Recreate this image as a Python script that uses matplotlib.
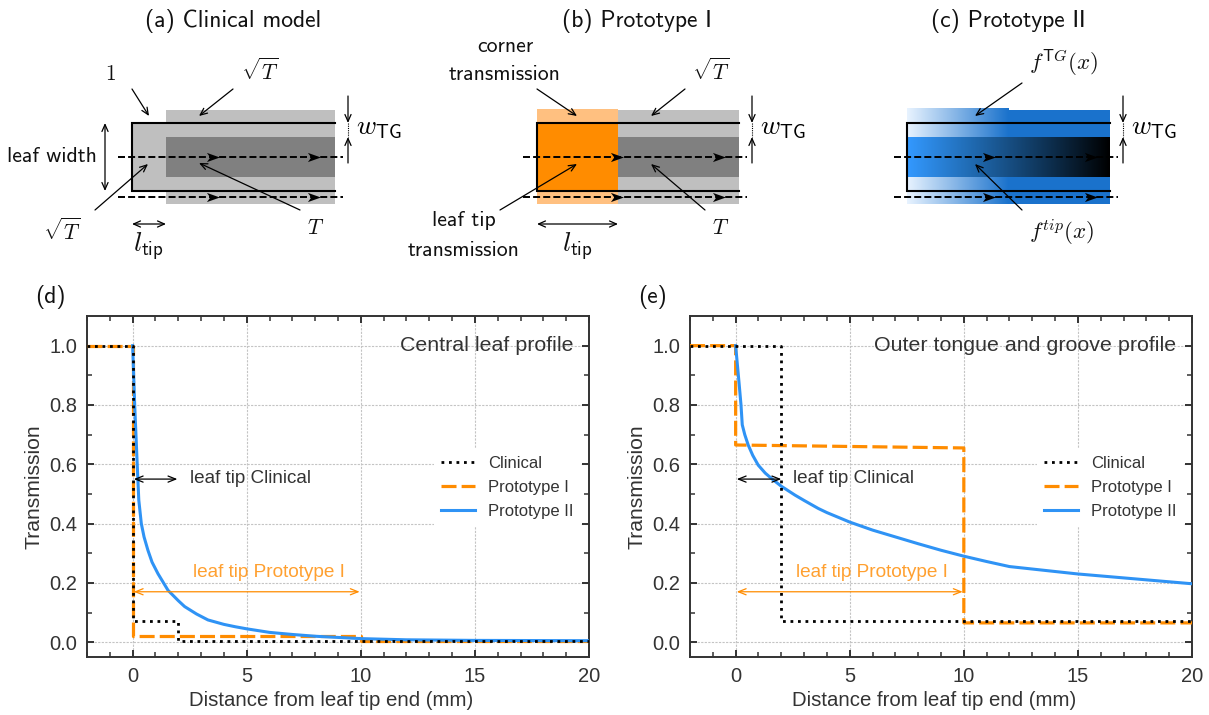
import numpy as np
import matplotlib
matplotlib.use('Agg')
import matplotlib.pyplot as plt
from matplotlib.colors import LinearSegmentedColormap
from matplotlib.path import Path
from matplotlib.patches import Rectangle

W, H = 1209, 715
plt.rcParams['mathtext.fontset'] = 'cm'
plt.rcParams['font.family'] = ['Liberation Sans', 'DejaVu Sans']

# ---- data panel (d) ----
d_clin_x = [-2, 0, 0, 2, 2, 20]
d_clin_y = [1, 1, 0.07, 0.07, 0.005, 0.005]
d_p1_x = [-2, 0, 0, 10, 10, 20]
d_p1_y = [1, 1, 0.02, 0.02, 0.005, 0.005]
d_p2_x = [0, 0.09, 0.2, 0.27, 0.38, 0.5, 0.67, 0.85, 1.11, 1.55, 2, 2.28, 2.8, 3.3, 4, 4.5, 5, 6, 7, 8, 9, 10, 12, 15, 20]
d_p2_y = [1, .80, .6, .479, .40, .355, .31, .27, .231, .175, .14, .12, .095, .075, .06, .052, .045, .033, .026, .02, .016, .012, .008, .006, .005]
# ---- data panel (e) ----
e_clin_x = [-2, 2, 2, 20]
e_clin_y = [1, 1, 0.07, 0.07]
e_p1_x = [-2, 0, 0, 10, 10, 20]
e_p1_y = [1, 1, 0.665, 0.655, 0.065, 0.065]
e_p2_x = [0, 0.15, 0.235, 0.29, 0.4, 0.55, 0.75, 0.99, 1.3, 1.65, 2, 2.6, 3, 3.62, 4, 5, 6, 7, 8, 9, 10, 11, 12, 15, 20]
e_p2_y = [1, .874, .80, .733, .70, .665, .63, .597, .57, .547, .526, .496, .478, .451, .437, .405, .378, .355, .332, .31, .29, .272, .255, .23, .197]

series_labels = ['Clinical', 'Prototype I', 'Prototype II']
BLUE, ORANGE = '#2f93f5', '#ff8c00'
TXT = '#333333'

fig = plt.figure(figsize=(W / 100, H / 100), dpi=100)


def pixel_axes(l, t, r, b):
    return fig.add_axes([l / W, 1 - b / H, (r - l) / W, (b - t) / H])


def profile(ax, cx, cy, px, py, bx, by, caption, clin_arrow_end):
    ax.plot(px, py, color=ORANGE, lw=2.3, dashes=(4.7, 1.6), zorder=3, label=series_labels[1])
    ax.plot(bx, by, color=BLUE, lw=2.2, zorder=4, label=series_labels[2])
    ax.plot(cx, cy, color='black', lw=2.0, dashes=(1, 1.7), zorder=5, label=series_labels[0])
    ax.set_xlim(-2, 20)
    ax.set_ylim(-0.05, 1.1)
    ax.set_xticks([0, 5, 10, 15, 20])
    ax.set_xticks(range(-2, 21), minor=True)
    ax.set_yticks([0, .2, .4, .6, .8, 1.0])
    ax.set_yticks(np.arange(0, 1.05, .1), minor=True)
    ax.tick_params(which='major', direction='in', top=True, right=True, length=5, width=1.4,
                   labelsize=14.5, colors=TXT, pad=7)
    ax.tick_params(which='minor', direction='in', top=True, right=True, length=3.3, width=1.1, colors=TXT)
    ax.grid(True, which='major', color='#c4c4c4', lw=0.8, ls=(0, (2, 1.2)), zorder=0)
    for s in ax.spines.values():
        s.set_linewidth(1.4)
        s.set_color(TXT)
    ax.set_xlabel('Distance from leaf tip end (mm)', fontsize=14.7, color=TXT)
    ax.set_ylabel('Transmission', fontsize=15.2, color=TXT)
    ax.text(19.3, 1.0, caption, ha='right', va='center', fontsize=15.4, color=TXT, zorder=6)
    ax.text(2.5, 0.553, 'leaf tip Clinical', ha='left', va='center', fontsize=13.6, color=TXT, zorder=6)
    ax.annotate('', xy=(0.05, .55), xytext=(clin_arrow_end, .55), zorder=6,
                arrowprops=dict(arrowstyle='<->,head_width=0.22,head_length=0.55', color='black', lw=0.9,
                                shrinkA=0, shrinkB=0))
    ax.text(2.65, 0.234, 'leaf tip Prototype I', ha='left', va='center', fontsize=13.7, color='#ffa030', zorder=6)
    ax.annotate('', xy=(0.05, .17), xytext=(9.95, .17), zorder=6,
                arrowprops=dict(arrowstyle='<->,head_width=0.22,head_length=0.55', color=ORANGE, lw=0.9,
                                shrinkA=0, shrinkB=0))
    h, l = ax.get_legend_handles_labels()
    order = [2, 0, 1]
    leg = ax.legend([h[i] for i in order], [l[i] for i in order], loc='center right',
                    bbox_to_anchor=(0.984, 0.498), borderaxespad=0, fontsize=12, frameon=True, framealpha=1,
                    edgecolor='none', facecolor='white', fancybox=False, handlelength=2.04,
                    labelspacing=0.55, handletextpad=0.78, borderpad=0.42)
    leg.set_zorder(2)
    for t in leg.get_texts():
        t.set_color(TXT)
    ax.yaxis.set_label_coords(-0.087, 0.5)
    ax.xaxis.set_label_coords(0.486, -0.100)


ax_d = pixel_axes(87, 316, 589, 657)
ax_e = pixel_axes(690, 316, 1192, 657)
profile(ax_d, d_clin_x, d_clin_y, d_p1_x, d_p1_y, d_p2_x, d_p2_y, 'Central leaf profile', 1.96)
profile(ax_e, e_clin_x, e_clin_y, e_p1_x, e_p1_y, e_p2_x, e_p2_y, 'Outer tongue and groove profile', 2.0)

# ---- schematic overlay, in pixel units of the figure ----
ov = fig.add_axes([0, 0, 1, 1], zorder=10)
ov.patch.set_alpha(0)
ov.axis('off')

SANS = 'cmss10'
LG, DG = '#bfbfbf', '#808080'


def rect(x0, y0, x1, y1, c, z=1):
    ov.add_patch(Rectangle((x0, y0), x1 - x0, y1 - y0, fc=c, ec='none', zorder=z))


def outline(x0, x1):
    ov.plot([x1, x0, x0, x1], [123, 123, 191, 191], color='black', lw=1.5, zorder=5, solid_joinstyle='miter')


head = Path([(1, 0), (-.75, .62), (-.3, 0), (-.75, -.62), (1, 0)],
            [Path.MOVETO, Path.LINETO, Path.LINETO, Path.LINETO, Path.CLOSEPOLY])


def dashed(x0, x1, tips):
    for y in (157, 197):
        ov.plot([x0, x1], [y, y], color='black', lw=1.4, dashes=(3.6, 1.6), zorder=6)
        ov.plot(np.array(tips) - 7.4, [y] * 2, ls='none', marker=head, ms=10.7, color='black', mew=0, zorder=7)


def arrow(a, b, style='->', lw=0.9):
    ov.annotate('', xy=b, xytext=a, zorder=8,
                arrowprops=dict(arrowstyle=style + ',head_width=0.22,head_length=0.5', color='black', lw=lw,
                                shrinkA=0, shrinkB=0))


def wtg(x, tx):
    arrow((x, 96), (x, 123), '->')
    arrow((x, 163), (x, 137), '->')
    ov.plot([x, x], [123, 137], color='black', lw=0.8, ls=(0, (1, 1)), zorder=8)
    ov.text(tx, 127, r'$w_{\mathsf{TG}}$', fontsize=19.5, ha='left', va='center', zorder=8)


def label(x, y, s, fs=15.7):
    ov.text(x, y, s, fontsize=fs, family=SANS, ha='center', va='center', color='#111111', zorder=8)


def math(x, y, s, fs=15.5):
    ov.text(x, y, s, fontsize=fs, ha='center', va='center', color='#111111', zorder=8)


# (a)
rect(166, 110, 335, 204, LG)
rect(132, 123, 166, 191, LG)
rect(166, 137, 335, 177, DG, 2)
outline(132, 335)
dashed(118, 343, [219, 320])
label(233, 21, '(a) Clinical model', 17)
math(110, 75, r'$1$')
arrow((132, 89), (149, 116))
math(260, 72, r'$\sqrt{T}$')
arrow((233, 89), (199, 116))
label(52, 157, 'leaf width')
arrow((105, 123), (105, 191), '<->')
wtg(348, 356)
math(62, 232, r'$\sqrt{T}$')
arrow((95, 210), (148, 164))
math(316, 228, r'$T$')
arrow((300, 210), (199, 163))
arrow((132, 224), (166, 224), '<->')
math(148, 247, r'$l_{\mathsf{tip}}$', 19.5)

# (b)
rect(537, 109, 618, 204, '#ffc080')
rect(537, 123, 618, 191, ORANGE, 2)
rect(618, 110, 739, 204, LG)
rect(618, 137, 739, 177, DG, 2)
outline(537, 739)
dashed(523, 747, [623, 725])
label(637, 21, '(b) Prototype I', 17)
label(505, 46, 'corner')
label(505, 75, 'transmission')
arrow((537, 89), (577, 116))
math(711, 72, r'$\sqrt{T}$')
arrow((685, 89), (651, 116))
wtg(752, 760)
label(464, 221, 'leaf tip')
label(464, 250, 'transmission')
arrow((500, 210), (577, 164))
math(721, 228, r'$T$')
arrow((705, 210), (651, 164))
arrow((537, 224), (618, 224), '<->')
math(577, 247, r'$l_{\mathsf{tip}}$', 19.5)

# (c)
tg_cmap = LinearSegmentedColormap.from_list('tg', ['#e8f3ff', '#1a72cc'])
tip_cmap = LinearSegmentedColormap.from_list('tip', ['#3399ff', '#1f68ae', '#0f3559', 'black'])
ramp = np.linspace(0, 1, 256)[None, :]
rect(1009, 110, 1110, 204, '#1a72cc')
ov.imshow(ramp, cmap=tg_cmap, extent=(907, 1009, 204.5, 109), aspect='auto', zorder=2)
ov.imshow(ramp, cmap=tip_cmap, extent=(907, 1110, 177, 137), aspect='auto', zorder=3)
outline(907, 1110)
dashed(894, 1118, [995, 1097])
label(1008, 21, '(c) Prototype II', 17)
math(1064, 63, r'$f^{\mathsf{T}G}(x)$', 16.5)
arrow((1022, 83), (975, 116))
wtg(1123, 1131)
math(1062, 232, r'$f^{tip}(x)$', 16.5)
arrow((1022, 210), (975, 164))

# panel letters
label(50, 297, '(d)', 17)
label(652, 297, '(e)', 17)

ov.set_xlim(0, W)
ov.set_ylim(H, 0)

fig.savefig('out.png', dpi=100)
